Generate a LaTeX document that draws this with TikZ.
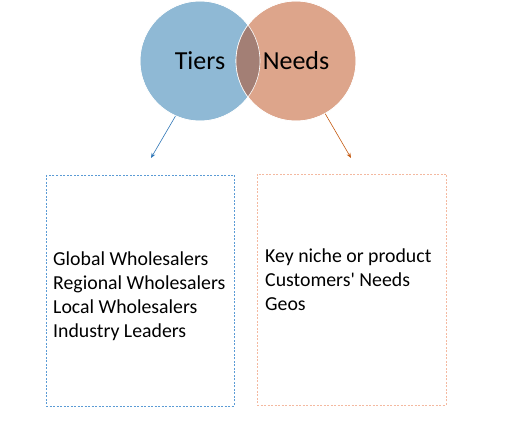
\documentclass[tikz,border=0pt]{standalone}
\usepackage{fontspec}
\setmainfont{Carlito}[Ligatures=TeXOff]
\usetikzlibrary{arrows.meta}
\definecolor{cblue}{HTML}{8FB9D5}
\definecolor{cpink}{HTML}{DDA58B}
\definecolor{cover}{HTML}{A37F75}
\definecolor{ablue}{HTML}{2E75B6}
\definecolor{aorange}{HTML}{C55A11}
\definecolor{bblue}{HTML}{5B9BD5}
\definecolor{bpink}{HTML}{F4B9A0}
\tikzset{
  venn/.style={circle, minimum size=120pt, inner sep=0pt, draw=white, line width=0.6pt},
  vlabel/.style={font=\fontsize{26}{30}\selectfont, text=black},
  listbox/.style={draw, dashed, dash pattern=on 2pt off 1.5pt, line width=0.6pt},
  listtext/.style={font=\fontsize{19.8}{24}\selectfont, align=left, anchor=north west, inner sep=0pt},
  darrow/.style={-{Stealth[length=5pt,width=4pt]}, line width=0.6pt}
}
\begin{document}
\begin{tikzpicture}[x=1pt,y=-1pt]
\useasboundingbox (0,0) rectangle (507,422);
\node[venn, fill=cblue] (tiers) at (200,61) {};
\node[venn, fill=cpink] (needs) at (296,61) {};
\begin{scope}
  \clip (200,61) circle (60pt);
  \fill[cover] (296,61) circle (60pt);
\end{scope}
\draw[white, line width=0.6pt] (200,61) circle (60pt);
\draw[white, line width=0.6pt] (296,61) circle (60pt);
\node[vlabel] (tl) at (200,61) {Tiers};
\node[vlabel] (nl) at (296,61) {Needs};
\coordinate (e1) at (151,158);
\coordinate (e2) at (351,158);
\draw[darrow, ablue] (tiers.246) -- (e1);
\draw[darrow, aorange] (needs.-61) -- (e2);
\draw[listbox, bblue] (46,175) rectangle (234,406);
\draw[listbox, bpink] (257,174) rectangle (446,405);
\node[listtext] (lt) at (53,252) {Global Wholesalers\\Regional Wholesalers\\Local Wholesalers\\Industry Leaders};
\node[listtext] (rt) at (265,249) {Key niche or product\\Customers' Needs\\Geos};
\end{tikzpicture}
\end{document}
